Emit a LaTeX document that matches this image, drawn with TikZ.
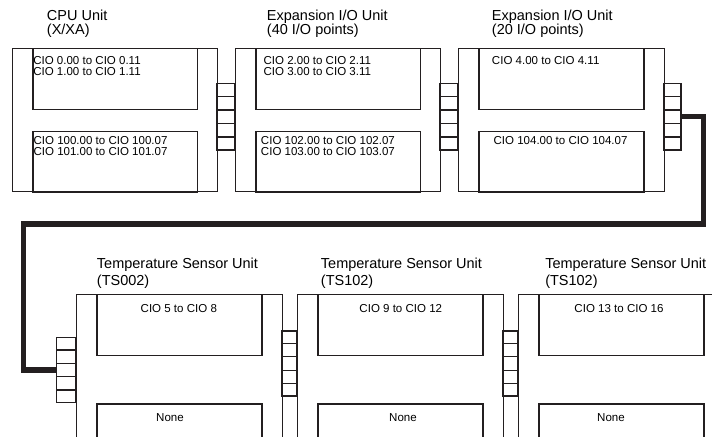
\documentclass[tikz,border=0pt]{standalone}
\usepackage{fontspec}
\setmainfont{Liberation Sans}
\usetikzlibrary{calc,positioning}
\definecolor{ink}{HTML}{231F20}

\begin{document}
\begin{tikzpicture}[
  font=\fontsize{8.2}{7.6}\selectfont,
  unit/.style={draw=ink,line width=.85pt,minimum width=5.13cm,inner sep=0pt,anchor=north west},
  slot/.style={draw=ink,line width=1.05pt,minimum width=4.12cm,minimum height=1.525cm,inner sep=0pt},
  port/.style={draw=ink,line width=.85pt,inner sep=0pt},
  title/.style={anchor=north west,inner sep=0pt,align=left,font=\fontsize{10.3}{9.8}\selectfont},
  cio/.style={anchor=north west,inner sep=0pt,align=left},
  cable/.style={draw=ink,line width=3.6pt}
]
  \useasboundingbox (0,0) rectangle (17.8,-10.925);
  \clip (0,0) rectangle (17.8,-10.925);

  % units
  \node[unit,minimum height=3.575cm] (cpu) at (.3,-1.2) {};
  \node[unit,minimum height=3.575cm] (expA) at (5.875,-1.2) {};
  \node[unit,minimum height=3.575cm,minimum width=5.15cm] (expB) at (11.45,-1.2) {};
  \node[unit,minimum height=4.4cm,minimum width=5.15cm] (tsA) at (1.9,-7.35) {};
  \node[unit,minimum height=4.4cm,minimum width=5.15cm] (tsB) at (7.425,-7.35) {};
  \node[unit,minimum height=4.4cm,minimum width=5.15cm] (tsC) at (12.95,-7.35) {};

  % word areas
  \foreach \u in {cpu,expA,expB,tsA,tsB,tsC}
    \node[slot,anchor=north] (\u-up) at (\u.north) {};
  \foreach \u in {cpu,expA,expB}
    \node[slot,below=.51cm of \u-up] (\u-low) {};
  \foreach \u in {tsA,tsB,tsC}
    \node[slot,below=1.175cm of \u-up] (\u-low) {};

  % connectors
  \foreach \p/\x/\y/\w/\h in {
    pA/5.65/-2.92/.45/1.66,
    pB/11.225/-2.92/.45/1.66,
    pC/16.8125/-2.92/.425/1.66,
    pD/1.659/-9.25/.48/1.635,
    pE/7.2375/-9.0875/.375/1.625,
    pF/12.7625/-9.0875/.375/1.625
  } {
    \node[port,minimum width=\w cm,minimum height=\h cm] (\p) at (\x,\y) {};
    \foreach \k in {1,...,4}
      \draw[ink,line width=.85pt] ($(\p.north west)!\k/5!(\p.south west)$) -- ($(\p.north east)!\k/5!(\p.south east)$);
  }

  % cable
  \coordinate (bendR) at (17.58,-5.6);
  \coordinate (bendL) at (.583,-5.6);
  \draw[cable] (pC.east) -| (bendR) -- (bendL) |- (pD.west);

  % titles
  \node[title] (cpuT) at (1.1675,-.25) {CPU Unit\\(X/XA)};
  \node[title] (expAT) at (6.6675,-.25) {Expansion I/O Unit\\(40 I/O points)};
  \node[title] (expBT) at (12.2925,-.25) {Expansion I/O Unit\\(20 I/O points)};
  \node[title,font=\fontsize{10.3}{11.8}\selectfont] (tsAT) at (2.4175,-6.4425) {Temperature Sensor Unit\\(TS002)};
  \node[title,font=\fontsize{10.3}{11.8}\selectfont] (tsBT) at (8.0175,-6.4425) {Temperature Sensor Unit\\(TS102)};
  \node[title,font=\fontsize{10.3}{11.8}\selectfont] (tsCT) at (13.625,-6.4425) {Temperature Sensor Unit\\(TS102)};

  % word ranges
  \node[cio] at (.825,-1.4) {CIO 0.00 to CIO 0.11\\CIO 1.00 to CIO 1.11};
  \node[cio] at (.8325,-3.4) {CIO 100.00 to CIO 100.07\\CIO 101.00 to CIO 101.07};
  \node[cio] at (6.5825,-1.4) {CIO 2.00 to CIO 2.11\\CIO 3.00 to CIO 3.11};
  \node[cio] at (6.5175,-3.4) {CIO 102.00 to CIO 102.07\\CIO 103.00 to CIO 103.07};
  \node[cio] at (12.2925,-1.4) {CIO 4.00 to CIO 4.11};
  \node[cio] at (12.3325,-3.4) {CIO 104.00 to CIO 104.07};
  \node[cio,anchor=north] at (4.47,-7.6) {CIO 5 to CIO 8};
  \node[cio,anchor=north] at (10.02,-7.6) {CIO 9 to CIO 12};
  \node[cio,anchor=north] at (15.475,-7.6) {CIO 13 to CIO 16};
  \node[cio,anchor=north] at (4.25,-10.325) {None};
  \node[cio,anchor=north] at (10.075,-10.325) {None};
  \node[cio,anchor=north] at (15.275,-10.325) {None};
\end{tikzpicture}
\end{document}
